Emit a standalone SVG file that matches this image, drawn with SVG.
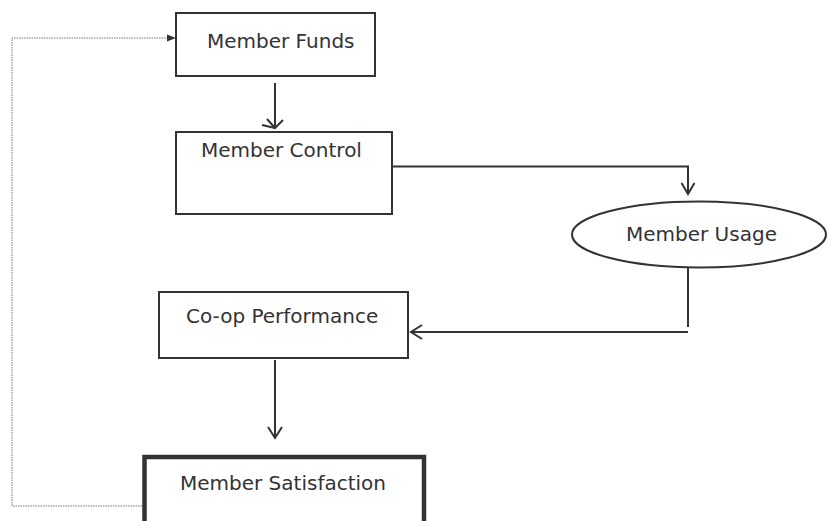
<svg xmlns="http://www.w3.org/2000/svg" width="827" height="521" viewBox="0 0 827 521">
  <defs>
    <style>
      .box { fill: #ffffff; stroke: #333333; stroke-width: 2; }
      .box-heavy { fill: #ffffff; stroke: #333333; stroke-width: 4.5; }
      .label { font-family: "DejaVu Sans", Verdana, sans-serif; font-size: 20px; fill: #333333; }
      .flow { fill: none; stroke: #333333; stroke-width: 2; }
      .head { fill: none; stroke: #333333; stroke-width: 2; stroke-linejoin: miter; }
      .feedback { fill: none; stroke: #777777; stroke-width: 1; stroke-dasharray: 1.5 1; }
    </style>
  </defs>
  <rect width="827" height="521" fill="#ffffff"/>

  <!-- connectors -->
  <g id="connectors">
    <!-- Member Funds to Member Control -->
    <line class="flow" x1="275" y1="83" x2="275" y2="127"/>
    <polyline class="head" points="267,119 275,128 283,120"/>
    <polyline class="head" points="262,125 275,128"/>

    <!-- Member Control to Member Usage -->
    <path class="flow" d="M392,166.5 H688 V193"/>
    <polyline class="head" points="681.5,183 688,194 694.5,183"/>

    <!-- Member Usage to Co-op Performance -->
    <path class="flow" d="M688,263 V327"/>
    <path class="flow" d="M688,332 H412"/>
    <polyline class="head" points="422,325 411,332 422,339"/>

    <!-- Co-op Performance to Member Satisfaction -->
    <line class="flow" x1="275" y1="360" x2="275" y2="438"/>
    <polyline class="head" points="268,427 275,438 282,427"/>

    <!-- feedback loop: Member Satisfaction back to Member Funds -->
    <path class="feedback" d="M142,506 H12 V38 H168"/>
    <polygon points="167,34.5 176,38 167,41.5" fill="#333333"/>
  </g>

  <g id="member-funds">
    <rect class="box" x="176" y="13" width="199" height="63"/>
    <text class="label" x="207" y="48">Member Funds</text>
  </g>

  <g id="member-control">
    <rect class="box" x="176" y="132" width="216" height="82"/>
    <text class="label" x="201" y="157">Member Control</text>
  </g>

  <g id="member-usage">
    <ellipse class="box" cx="699" cy="234.5" rx="127" ry="33"/>
    <text class="label" x="626" y="241">Member Usage</text>
  </g>

  <g id="coop-performance">
    <rect class="box" x="159" y="292" width="249" height="66"/>
    <text class="label" x="186" y="323">Co-op Performance</text>
  </g>

  <g id="member-satisfaction">
    <rect class="box-heavy" x="144.5" y="457" width="279.5" height="80"/>
    <text class="label" x="180" y="490">Member Satisfaction</text>
  </g>
</svg>
